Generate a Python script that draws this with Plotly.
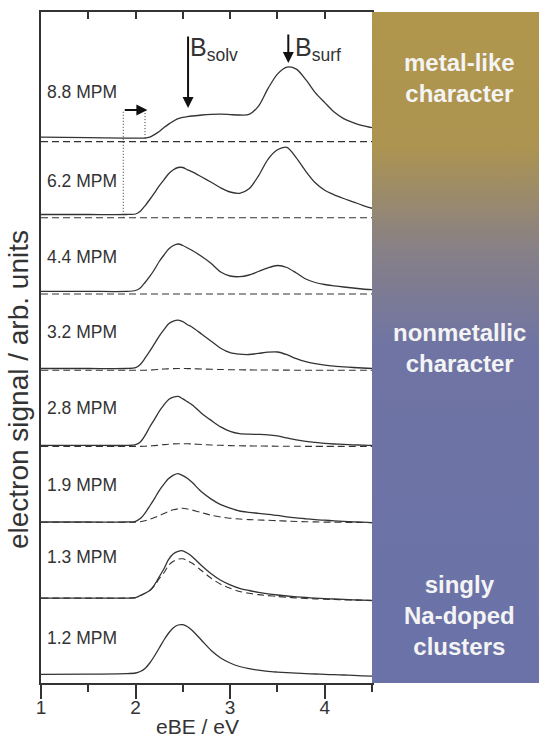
import plotly.graph_objects as go

# ---------------- data ----------------
eBE = [1.0, 1.5, 1.9, 2.0, 2.05, 2.1, 2.15, 2.2, 2.25, 2.3, 2.35, 2.4, 2.45, 2.5,
       2.55, 2.6, 2.7, 2.8, 2.9, 3.0, 3.1, 3.2, 3.3, 3.4, 3.5, 3.6, 3.7, 3.8, 3.9,
       4.0, 4.1, 4.2, 4.3, 4.4, 4.5]

labels = ["1.2 MPM", "1.3 MPM", "1.9 MPM", "2.8 MPM", "3.2 MPM", "4.4 MPM", "6.2 MPM", "8.8 MPM"]

sig_1p2 = [0.6, 0.8, 1.3, 2, 3.5, 6.5, 12, 19, 27, 35, 42, 47.3, 50, 50.3, 48.3, 44.5, 34.5,
           24.5, 17, 12, 8.5, 6.3, 4.8, 3.6, 2.9, 2.3, 1.8, 1.4, 1, 0.6, 0.3, 0, -0.4, -0.8, -1.1]
sig_1p3 = [0.7, 0.7, 0.7, 1.2, 3.3, 5.5, 8.3, 14, 22, 30, 39.5, 45, 47.5, 48, 45.5, 42, 33,
           25, 18.5, 14, 10.5, 8.3, 6.5, 5, 3.8, 2.8, 2, 1.3, 0.7, 0.2, -0.2, -0.6, -1, -1.4, -1.7]
sig_1p9 = [0.6, 0.6, 0.6, 1.3, 4, 9.5, 16.6, 24, 32, 38.5, 44, 47.5, 49, 47, 44, 40, 30.5,
           23.5, 18, 14.5, 11.6, 10.3, 9.3, 8.3, 7.2, 5.8, 4.7, 3.8, 3, 2.4, 1.8, 1.3, 0.8, 0.4, 0]
sig_2p8 = [1, 1, 1, 1.8, 4.4, 11, 19.4, 27, 35, 41.5, 47, 49.3, 50, 47.5, 44.5, 41.5, 33,
           26, 19.5, 15, 12.7, 12.2, 12, 11.6, 10.5, 8.5, 6.5, 5, 4, 3, 2.4, 2, 1.6, 1.2, 1]
sig_3p2 = [1.7, 1.7, 1.7, 2.5, 5.7, 12, 19, 26.5, 34, 40.5, 46.5, 49, 50, 48.5, 45.5, 43, 36,
           29, 22, 17.5, 16, 15.7, 16.8, 18, 18.2, 15.5, 11.5, 8.5, 6.5, 5, 4, 3.3, 2.7, 2.2, 1.7]
sig_4p4 = [2.6, 2.6, 2.6, 3.5, 6, 11.5, 17.6, 24.5, 32.5, 39, 45, 48.5, 50, 48.5, 46, 43.5, 37.5,
           30.5, 22, 18, 17.3, 19, 22.5, 26.2, 28.5, 26.5, 21, 15, 11.5, 9.5, 8.2, 7, 6, 5, 4.3]
sig_6p2 = [3.3, 3.3, 3.3, 3.8, 6.6, 12, 18.3, 25, 32, 38, 44, 48, 50.3, 50.3, 48, 46, 40.8,
           35.5, 30, 25.8, 24.5, 29, 42, 58.5, 68, 70.5, 60, 46.5, 35, 27.5, 23, 19.3, 16, 12.5, 9.5]
sig_8p8 = [4.4, 4.0, 3.5, 3.4, 3.4, 3.5, 4.5, 7, 10, 14, 17.5, 20.5, 23, 24.2, 25, 25.6, 26.6,
           27.2, 27.4, 27, 26.6, 27.2, 35.5, 53, 67.5, 74.5, 72.5, 62, 49, 39, 29.5, 23, 19, 16, 14]

# dashed contribution of singly Na-doped clusters (None = no dashed, "flat" = flat dashed baseline)
sd_1p3 = [0.7, 0.7, 0.7, 1.2, 3.3, 5.5, 8.3, 13, 20, 26, 33.5, 37.5, 39.7, 40, 38, 35.5, 28,
          20.5, 14.5, 10.5, 7.3, 5.5, 4.2, 3.2, 2.3, 1.5, 0.9, 0.3, -0.1, -0.4, -0.7, -1, -1.2, -1.5, -1.7]
sd_1p9 = [0.3, 0.3, 0.3, 0.4, 0.8, 1.8, 3.3, 5, 7, 9, 11.2, 12.8, 13.8, 14.3, 13.6, 12.5, 10,
          7.3, 5.6, 4.3, 3.6, 3, 2.6, 2.3, 1.9, 1.5, 1.1, 0.9, 0.7, 0.5, 0.4, 0.3, 0.2, 0.1, 0]
sd_2p8 = [0, 0, 0, 0, 0, 0.2, 0.4, 0.8, 1.3, 1.8, 2.2, 2.5, 2.65, 2.7, 2.6, 2.4, 1.9,
          1.4, 1.1, 0.8, 0.6, 0.5, 0.4, 0.3, 0.2, 0.15, 0.1, 0.05, 0, 0, 0, 0, 0, 0, 0]
sd_3p2 = [0, 0, 0, 0, 0, 0, 0.2, 0.5, 0.8, 1.2, 1.4, 1.6, 1.7, 1.7, 1.6, 1.5, 1.2,
          0.9, 0.7, 0.5, 0.4, 0.3, 0.25, 0.2, 0.1, 0.1, 0, 0, 0, 0, 0, 0, 0, 0, 0]

signals = [sig_1p2, sig_1p3, sig_1p9, sig_2p8, sig_3p2, sig_4p4, sig_6p2, sig_8p8]
singly = [None, sd_1p3, sd_1p9, sd_2p8, sd_3p2, "flat", "flat", "flat"]

region_text = ["metal-like<br>character", "nonmetallic<br>character", "singly<br>Na-doped<br>clusters"]

B_solv_eV = 2.555
B_surf_eV = 3.615

# ---------------- layout helpers ----------------
STEP = 76.2       # vertical offset between stacked spectra
BASE = 8.0
YMAX = 671
label_lift = [37, 42, 38, 38, 38, 37, 37, 50]
INK = "#333333"
FONT = "Liberation Sans, Arial, sans-serif"
XDOM = 331 / 498

fig = go.Figure()

# gradient panel on the right
fig.add_trace(go.Scatter(
    x=[0, 1, 1, 0, 0], y=[0, 0, YMAX, YMAX, 0], xaxis="x2", yaxis="y",
    mode="lines", line=dict(width=0), fill="toself",
    fillgradient=dict(type="vertical", start=0, stop=YMAX, colorscale=[
        [0.0, "rgb(106,114,168)"], [0.50, "rgb(111,116,164)"],
        [0.645, "rgb(135,128,135)"], [0.80, "rgb(173,148,80)"], [1.0, "rgb(176,150,76)"]]),
    hoverinfo="skip", showlegend=False))

for i, (sig, sd) in enumerate(zip(signals, singly)):
    off = BASE + i * STEP
    if sd == "flat":
        fig.add_trace(go.Scatter(x=[eBE[0], eBE[-1]], y=[off, off], mode="lines",
                                 line=dict(color=INK, width=1.1, dash="7px,4px"),
                                 showlegend=False, hoverinfo="skip"))
    elif sd is not None:
        fig.add_trace(go.Scatter(x=eBE, y=[off + v for v in sd], mode="lines",
                                 line=dict(color=INK, width=1.1, dash="7px,4px", shape="spline", smoothing=0.8),
                                 showlegend=False, hoverinfo="skip"))
    fig.add_trace(go.Scatter(x=eBE, y=[off + v for v in sig], mode="lines",
                             line=dict(color=INK, width=1.3, shape="spline", smoothing=0.8),
                             showlegend=False, hoverinfo="skip"))

# dotted markers of the onset shift
top_y = 573
fig.add_trace(go.Scatter(x=[1.87, 1.87], y=[BASE + 6 * STEP, top_y], mode="lines",
                         line=dict(color=INK, width=1, dash="1px,2px"), showlegend=False, hoverinfo="skip"))
fig.add_trace(go.Scatter(x=[2.1, 2.1], y=[BASE + 7 * STEP + 3.5, top_y], mode="lines",
                         line=dict(color=INK, width=1, dash="1px,2px"), showlegend=False, hoverinfo="skip"))

ann = []
for i, lab in enumerate(labels):
    ann.append(dict(x=1.045, y=BASE + i * STEP + label_lift[i], xref="x", yref="y", text=lab,
                    showarrow=False, xanchor="left", yanchor="middle",
                    font=dict(family=FONT, size=17.5, color=INK)))

# arrows
ann.append(dict(x=2.125, y=top_y, ax=1.87, ay=top_y, xref="x", yref="y", axref="x", ayref="y",
                text="", showarrow=True, arrowhead=2, arrowsize=1.1, arrowwidth=2, arrowcolor="#111"))
ann.append(dict(x=B_solv_eV, y=575, ax=B_solv_eV, ay=648, xref="x", yref="y", axref="x", ayref="y",
                text="", showarrow=True, arrowhead=2, arrowsize=1.1, arrowwidth=2, arrowcolor="#111"))
ann.append(dict(x=B_surf_eV, y=620, ax=B_surf_eV, ay=650, xref="x", yref="y", axref="x", ayref="y",
                text="", showarrow=True, arrowhead=2, arrowsize=1.1, arrowwidth=2, arrowcolor="#111"))
ann.append(dict(x=2.55, y=652, xref="x", yref="y", text="B<sub>solv</sub>", showarrow=False,
                xanchor="left", yanchor="top", font=dict(family=FONT, size=25, color=INK)))
ann.append(dict(x=3.66, y=652, xref="x", yref="y", text="B<sub>surf</sub>", showarrow=False,
                xanchor="left", yanchor="top", font=dict(family=FONT, size=25, color=INK)))

# panel texts
for txt, yc in zip(region_text, [683 - 78, 683 - 348, 683 - 615]):
    ann.append(dict(x=0.525, y=yc, xref="x2", yref="y", text=txt, showarrow=False,
                    xanchor="center", yanchor="middle", align="center",
                    font=dict(family=FONT, size=24, color="#f4f4f4", weight="bold")))

# axis titles
ann.append(dict(x=-0.045, y=(683 - 389.5) / 671, xref="paper", yref="paper", textangle=-90,
                text="electron signal / arb. units", showarrow=False, xanchor="center", yanchor="middle",
                font=dict(family=FONT, size=28, color=INK)))
ann.append(dict(x=2.66, y=(683 - 739.5) / 671, xref="x", yref="paper", text="eBE / eV",
                showarrow=False, xanchor="center", yanchor="bottom",
                font=dict(family=FONT, size=21, color=INK)))

fig.update_layout(
    width=539, height=740, margin=dict(l=41, r=0, t=12, b=57),
    paper_bgcolor="white", plot_bgcolor="white", showlegend=False,
    annotations=ann,
    xaxis=dict(domain=[0, XDOM], range=[1, 4.5], showline=True, linecolor=INK, linewidth=1.5,
               ticks="outside", ticklen=14, tickwidth=1.5, tickcolor=INK, tickvals=[1, 2, 3, 4],
               ticktext=["1", "2", "3", "4"], ticklabelstandoff=-8,
               minor=dict(tickvals=[1.5, 2.5, 3.5, 4.5], ticks="outside", ticklen=7, tickwidth=1.5, tickcolor=INK),
               showgrid=False, zeroline=False, tickfont=dict(family=FONT, size=19, color=INK)),
    xaxis3=dict(overlaying="x", side="top", anchor="y", range=[1, 4.5], showline=True, linecolor=INK,
                linewidth=1.5, ticks="inside", ticklen=7, tickwidth=1.5, tickcolor=INK,
                tickvals=[1.5, 2, 2.5, 3, 3.5, 4], showticklabels=False, showgrid=False, zeroline=False),
    xaxis2=dict(domain=[XDOM, 1], range=[0, 1], visible=False, anchor="y", fixedrange=True),
    yaxis=dict(range=[0, YMAX], showline=True, mirror=True, linecolor=INK, linewidth=1.5, ticks="",
               showticklabels=False, showgrid=False, zeroline=False),
)
fig.add_trace(go.Scatter(x=[1], y=[-10], xaxis="x3", yaxis="y", mode="markers",
                         marker=dict(opacity=0), showlegend=False, hoverinfo="skip"))

fig.write_html("out.html", config={"displayModeBar": False},
               post_script="document.body.style.margin='0px';")
